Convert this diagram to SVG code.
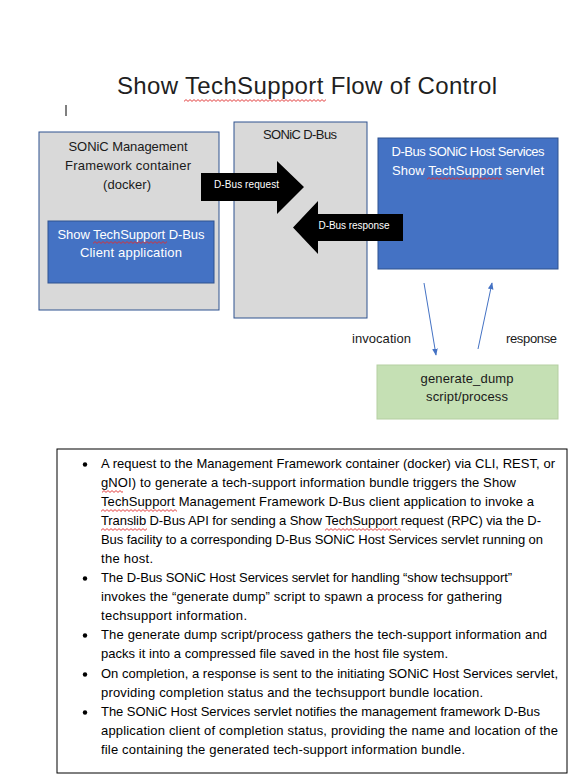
<svg xmlns="http://www.w3.org/2000/svg" width="588" height="783" viewBox="0 0 588 783">
<style>
  text { font-family: "Liberation Sans", Arial, sans-serif; }
  .title { font-size: 24px; fill: #1f1f1f; }
  .lbl { font-size: 13px; fill: #1a1a1a; text-anchor: middle; }
  .wlbl { font-size: 13px; fill: #ffffff; text-anchor: middle; }
  .alb { font-size: 10px; fill: #ffffff; text-anchor: middle; }
  .body { font-size: 13px; fill: #000000; }
  .grey { fill: #d9d9d9; stroke: #2f528f; stroke-width: 1; }
  .blue { fill: #4472c4; stroke: #2f528f; stroke-width: 1; }
  .green { fill: #c5e0b4; stroke: #b5cfa2; stroke-width: 1; }
  .block { fill: #000000; }
  .thin { stroke: #4472c4; stroke-width: 1; fill: none; marker-end: url(#ah); }
  .bul { fill: #000000; }
</style>
<defs>
  <marker id="ah" viewBox="0 0 10 10" refX="9" refY="5" markerWidth="7" markerHeight="7" markerUnits="userSpaceOnUse" orient="auto">
    <path d="M0,1 L10,5 L0,9 Z" fill="#4472c4"/>
  </marker>
  <pattern id="wavy" width="4" height="3" patternUnits="userSpaceOnUse">
    <path d="M0,2.4 L2,0.6 L4,2.4" fill="none" stroke="#e02b2b" stroke-width="0.9"/>
  </pattern>
</defs>
<rect width="588" height="783" fill="#ffffff"/>

<g id="title">
  <text class="title" x="117" y="94" textLength="380">Show TechSupport Flow of Control</text>
  <line x1="66" y1="105" x2="66" y2="116" stroke="#000" stroke-width="1"/>
</g>

<g id="mgmt-container">
  <rect class="grey" x="39" y="132" width="180" height="178"/>
  <text class="lbl" x="128" y="151" textLength="119">SONiC Management</text>
  <text class="lbl" x="128" y="170" textLength="126">Framework container</text>
  <text class="lbl" x="127" y="189" textLength="48">(docker)</text>
</g>

<g id="client-app">
  <rect class="blue" x="48" y="221" width="166" height="62"/>
  <text class="wlbl" x="131" y="239" textLength="147">Show TechSupport D-Bus</text>
  <text class="wlbl" x="131" y="257" textLength="102">Client application</text>
</g>

<g id="dbus">
  <rect class="grey" x="234" y="122" width="133" height="196"/>
  <text class="lbl" x="300" y="139" textLength="74">SONiC D-Bus</text>
</g>

<g id="host-servlet">
  <rect class="blue" x="378" y="138" width="180" height="131"/>
  <text class="wlbl" x="468" y="156" textLength="153">D-Bus SONiC Host Services</text>
  <text class="wlbl" x="468" y="175" textLength="152">Show TechSupport servlet</text>
</g>

<g id="generate-dump">
  <rect class="green" x="377" y="365" width="181" height="54"/>
  <text class="lbl" x="467" y="383" textLength="93">generate_dump</text>
  <text class="lbl" x="467" y="401" textLength="82">script/process</text>
</g>

<g id="connectors">
  <g id="dbus-request">
    <path class="block" d="M201,173 L277,173 L277,161 L304,187 L277,214 L277,201 L201,201 Z"/>
    <text class="alb" x="246.5" y="188" textLength="65">D-Bus request</text>
  </g>
  <g id="dbus-response">
    <path class="block" d="M403,214 L318,214 L318,201 L293,227.5 L318,254 L318,241 L403,241 Z"/>
    <text class="alb" x="354" y="229" textLength="71">D-Bus response</text>
  </g>
  <g id="invocation">
    <line class="thin" x1="424" y1="283" x2="436" y2="355"/>
    <text class="lbl" x="381.5" y="343" textLength="59">invocation</text>
  </g>
  <g id="response">
    <line class="thin" x1="478" y1="349" x2="492" y2="283"/>
    <text class="lbl" x="531.5" y="343" textLength="51">response</text>
  </g>
</g>

<g id="notes">
  <rect x="57" y="449" width="510" height="324" fill="none" stroke="#000" stroke-width="1"/>
  <circle class="bul" cx="85" cy="464.5" r="2.2"/>
  <circle class="bul" cx="85" cy="578.5" r="2.2"/>
  <circle class="bul" cx="85" cy="635.5" r="2.2"/>
  <circle class="bul" cx="85" cy="674.5" r="2.2"/>
  <circle class="bul" cx="85" cy="712.5" r="2.2"/>
  <text class="body" x="101" y="468" textLength="454">A request to the Management Framework container (docker) via CLI, REST, or</text>
  <text class="body" x="101" y="487" textLength="415">gNOI) to generate a tech-support information bundle triggers the Show</text>
  <text class="body" x="101" y="506" textLength="433">TechSupport Management Framework D-Bus client application to invoke a</text>
  <text class="body" x="101" y="525" textLength="440">Translib D-Bus API for sending a Show TechSupport request (RPC) via the D-</text>
  <text class="body" x="101" y="544" textLength="442">Bus facility to a corresponding D-Bus SONiC Host Services servlet running on</text>
  <text class="body" x="101" y="563" textLength="52">the host.</text>
  <text class="body" x="101" y="582" textLength="411">The D-Bus SONiC Host Services servlet for handling “show techsupport”</text>
  <text class="body" x="101" y="601" textLength="401">invokes the “generate dump” script to spawn a process for gathering</text>
  <text class="body" x="101" y="620" textLength="146">techsupport information.</text>
  <text class="body" x="101" y="639" textLength="446">The generate dump script/process gathers the tech-support information and</text>
  <text class="body" x="101" y="658" textLength="347">packs it into a compressed file saved in the host file system.</text>
  <text class="body" x="101" y="678" textLength="457">On completion, a response is sent to the initiating SONiC Host Services servlet,</text>
  <text class="body" x="101" y="697" textLength="382">providing completion status and the techsupport bundle location.</text>
  <text class="body" x="101" y="716" textLength="439">The SONiC Host Services servlet notifies the management framework D-Bus</text>
  <text class="body" x="101" y="735" textLength="457">application client of completion status, providing the name and location of the</text>
  <text class="body" x="101" y="754" textLength="364">file containing the generated tech-support information bundle.</text>
</g>

<g id="spellcheck-marks">
  <rect transform="translate(184,99)" width="142" height="3" fill="url(#wavy)"/>
  <rect transform="translate(93,241)" width="74" height="3" fill="url(#wavy)"/>
  <rect transform="translate(427,177)" width="76" height="3" fill="url(#wavy)"/>
  <rect transform="translate(102,490)" width="21" height="3" fill="url(#wavy)"/>
  <rect transform="translate(101,509)" width="76" height="3" fill="url(#wavy)"/>
  <rect transform="translate(101,528)" width="46" height="3" fill="url(#wavy)"/>
  <rect transform="translate(325,528)" width="76" height="3" fill="url(#wavy)"/>
</g>
</svg>
